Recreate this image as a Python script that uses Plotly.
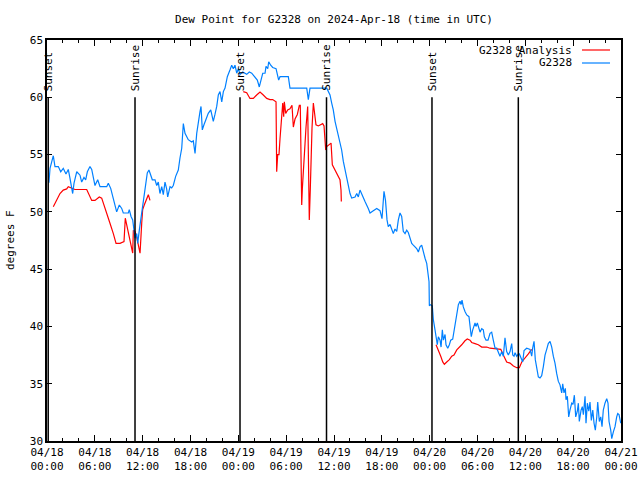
import pandas as pd
import plotly.graph_objects as go

BASE = pd.Timestamp("2024-04-18 00:00")

# G2328 observed dew point: hours since 04/18 00:00 UTC, value (deg F)
obs_hours = [0.16, 0.25, 0.38, 0.79, 1.0, 1.42, 1.72, 2.04, 2.38, 2.67, 2.89, 3.22, 3.39, 3.73, 4.14, 4.35,
             4.64, 4.85, 5.06, 5.39, 5.61, 6.02, 6.36, 6.65, 7.49, 7.69, 7.99, 8.32, 8.74, 9.07, 9.37, 9.57,
             10.2, 10.32, 10.54, 10.75, 10.91, 11.04, 11.25, 11.38, 11.58, 11.75, 11.95, 12.17, 12.38, 12.58,
             12.79, 13.01, 13.21, 13.55, 13.76, 13.96, 14.17, 14.39, 14.59, 14.8, 15.01, 15.14, 15.43, 15.64,
             15.84, 16.14, 16.47, 16.68, 16.9, 17.1, 17.31, 17.72, 18.15, 18.35, 18.57, 18.78, 18.98, 19.19,
             19.32, 19.48, 19.69, 20.03, 20.23, 20.54, 20.86, 21.07, 21.29, 21.49, 21.7, 21.92, 22.12, 22.33,
             22.62, 22.96, 23.17, 23.37, 23.58, 23.8, 24.0, 24.21, 24.55, 25.05, 25.38, 25.68, 26.09, 26.38,
             26.63, 26.85, 27.06, 27.35, 27.47, 27.69, 27.81, 28.06, 28.31, 28.73, 29.06, 29.23, 30.27, 30.48,
             32.58, 32.78, 32.99, 35.09, 35.5, 35.71, 35.91, 36.13, 36.34, 36.54, 36.75, 36.96, 37.17, 37.38,
             37.59, 37.8, 38.01, 38.22, 38.64, 38.85, 39.05, 39.26, 39.48, 39.68, 39.89, 40.3, 40.52, 40.93,
             41.36, 41.77, 42.02, 42.27, 42.46, 42.65, 42.81, 43.03, 43.44, 43.65, 43.87, 44.07, 44.28, 44.49,
             44.69, 44.91, 45.12, 45.32, 45.53, 45.75, 45.95, 46.16, 46.37, 46.58, 46.79, 47.0, 47.2, 47.42,
             47.63, 47.83, 47.92, 47.96, 48.11, 48.33, 48.38, 48.46, 48.67, 48.8, 48.96, 49.09, 49.3, 49.43,
             49.59, 49.72, 49.93, 50.05, 50.27, 50.47, 50.64, 50.89, 51.18, 51.4, 51.6, 51.81, 51.93, 52.06,
             52.22, 52.43, 52.65, 52.93, 53.06, 53.22, 53.4, 53.69, 53.81, 53.98, 54.32, 54.53, 54.73, 54.86,
             55.07, 55.32, 55.57, 55.78, 55.98, 56.2, 56.41, 56.61, 56.82, 57.04, 57.24, 57.45, 57.66, 57.87,
             58.08, 58.29, 58.42, 58.58, 58.71, 58.92, 59.12, 59.25, 59.46, 59.67, 59.84, 60.17, 60.59, 60.8,
             60.92, 61.09, 61.25, 61.43, 61.63, 61.84, 62.05, 62.26, 62.47, 62.68, 62.88, 63.1, 63.31, 63.51,
             63.72, 63.93, 64.14, 64.35, 64.56, 64.69, 64.85, 65.02, 65.1, 65.27, 65.44, 65.6, 65.82, 65.98,
             66.15, 66.32, 66.52, 66.65, 66.77, 66.99, 67.15, 67.28, 67.49, 67.61, 67.78, 67.96, 68.11, 68.28,
             68.46, 68.62, 68.78, 68.96, 69.08, 69.28, 69.46, 69.62, 69.78, 69.99, 70.21, 70.37, 70.5, 70.71,
             70.84, 71.04, 71.25, 71.46, 71.59, 71.75, 71.97]
obs_values = [52.6, 52.6, 53.8, 54.9, 53.95, 53.95, 53.5, 53.8, 53.3, 53.7, 52.9, 51.6, 52.5, 53.5, 53.2, 52.6,
              53.0, 52.8, 53.5, 53.95, 53.7, 52.3, 52.8, 52.2, 52.2, 52.5, 52.05, 51.2, 50.0, 50.6, 50.3, 49.9,
              49.9, 50.2, 49.6, 49.3, 48.4, 47.7, 48.1, 47.25, 48.4, 49.3, 50.2, 51.3, 52.5, 53.4,
              53.65, 53.1, 52.8, 52.8, 52.3, 52.6, 51.6, 52.2, 51.5, 52.6, 52.0, 51.3, 52.2, 52.1,
              52.3, 53.1, 53.65, 54.7, 55.55, 57.7, 56.85, 56.3, 56.1, 56.2, 55.1, 56.85, 58.0, 58.75,
              59.2, 57.15, 57.6, 58.3, 58.6, 58.9, 57.9, 58.5, 59.2, 60.2, 60.5, 59.6, 60.5, 60.8,
              61.8, 62.4, 62.8, 62.5, 62.8, 62.1, 62.5, 62.0, 62.2, 62.0, 62.2, 62.1, 61.8, 61.5,
              60.9, 61.5, 62.1, 62.1, 62.7, 62.5, 63.1, 62.8, 62.6, 62.5, 61.5, 61.8, 61.8, 60.8,
              60.8, 59.8, 60.8, 60.8, 60.2, 59.5, 58.9, 57.9, 57.3, 56.7, 56.0, 55.4, 54.4, 53.65,
              52.8, 52.2, 51.6, 51.2, 51.3, 51.6, 51.3, 51.9, 51.5, 51.3, 50.9, 50.3, 49.9, 50.1,
              50.3, 50.1, 49.4, 51.8, 51.0, 49.3, 48.7, 48.9, 48.1, 48.5, 48.3, 49.3, 49.9, 49.6,
              48.3, 48.1, 48.4, 48.2, 47.8, 47.25, 47.1, 46.95, 46.8, 46.5, 46.95, 47.1, 46.4, 45.95,
              45.5, 44.6, 43.9, 41.8, 41.9, 41.8, 41.1, 40.6, 39.7, 39.1, 38.4, 39.1, 38.8, 38.2,
              39.7, 38.8, 39.3, 38.4, 38.1, 38.4, 38.8, 38.9, 40.1, 40.85, 41.9, 42.2, 41.9, 42.3,
              41.7, 41.3, 41.0, 40.85, 40.0, 39.1, 39.7, 40.3, 40.0, 40.3, 39.5, 39.8, 39.7, 39.1,
              38.8, 38.8, 39.4, 39.5, 38.8, 38.1, 38.1, 37.7, 37.4, 37.8, 37.4, 39.0, 37.8, 37.5,
              37.8, 38.5, 37.5, 37.4, 37.7, 37.4, 37.6, 37.6, 37.2, 36.9, 37.9, 38.1, 38.0, 37.4,
              38.1, 38.7, 37.1, 36.5, 35.6, 35.5, 35.7, 36.5, 37.5, 38.0, 38.5, 38.7, 38.2, 37.4,
              36.8, 35.9, 35.2, 34.9, 34.2, 35.0, 34.2, 34.6, 33.6, 33.9, 32.1, 32.7, 33.3, 33.2,
              34.0, 32.1, 32.6, 33.3, 31.7, 32.7, 33.0, 32.3, 33.9, 31.55, 33.3, 32.6, 33.4, 31.8,
              32.7, 31.55, 30.95, 32.1, 33.4, 31.7, 32.1, 31.25, 32.7, 33.3, 33.7, 33.3, 31.7, 30.95,
              30.2, 30.8, 31.25, 32.1, 32.4, 32.3, 31.55]

# G2328 Analysis (three separate segments)
ana_hours_1 = [0.79, 1.22, 1.63, 2.04, 2.47, 2.67, 3.1, 3.51, 4.98, 5.18, 5.61, 6.02, 6.56, 6.86, 7.06, 7.4,
               7.69, 7.9, 8.32, 8.66, 9.16, 9.66, 9.82, 10.0, 10.2, 10.41, 10.54, 10.75, 10.83, 11.04, 11.25,
               11.45, 11.67, 11.88, 12.0, 12.2, 12.42, 12.71, 12.92]
ana_values_1 = [50.45, 51.0, 51.6, 51.9, 52.0, 52.2, 52.1, 51.95, 51.95, 51.6, 51.0, 51.0, 51.3, 51.2, 50.8, 50.0,
                49.6, 49.0, 48.1, 47.25, 47.25, 47.4, 49.45, 48.9, 48.1, 47.5, 46.95, 46.4, 48.4, 48.3, 47.8,
                47.25, 46.4, 49.0, 50.2, 50.6, 51.05, 51.5, 51.0]
ana_hours_2 = [24.62, 25.05, 25.46, 25.88, 26.3, 26.72, 27.13, 27.56, 27.97, 28.31, 28.73, 28.81, 28.94, 29.1,
               29.23, 29.35, 29.57, 29.69, 29.77, 29.94, 30.19, 30.48, 30.73, 30.9, 31.11, 31.4, 31.65, 31.77,
               31.86, 31.95, 32.03, 32.15, 32.28, 32.49, 32.7, 32.78, 32.9, 33.03, 33.12, 33.24, 33.41, 33.62,
               33.74, 34.03, 34.25, 34.58, 34.75, 34.96, 35.09, 35.29, 35.63, 35.79, 36.0, 36.25, 36.54, 36.75,
               36.88, 36.92]
ana_values_2 = [60.5, 60.4, 59.9, 59.9, 60.2, 60.45, 60.2, 59.9, 59.8, 59.8, 59.6, 53.5, 55.0, 55.0,
                56.4, 57.9, 59.5, 58.3, 59.6, 58.6, 58.9, 59.0, 59.3, 57.4, 58.1, 58.5, 59.3, 59.3,
                55.0, 50.6, 52.05, 53.8, 55.5, 57.4, 59.2, 55.0, 49.3, 52.05, 55.0, 57.3, 59.5, 58.2,
                57.6, 57.5, 57.6, 57.7, 57.5, 55.4, 55.7, 55.8, 56.0, 54.1, 53.8, 53.5, 53.1, 52.8,
                51.9, 50.9]
ana_hours_3 = [48.8, 49.09, 49.39, 49.64, 49.84, 50.14, 50.47, 50.77, 51.05, 51.4, 51.68, 52.02, 52.43, 52.72,
               53.06, 53.27, 53.69, 54.1, 54.53, 55.16, 55.57, 56.2, 56.92, 57.24, 57.66, 58.08, 58.5, 58.92,
               59.25, 59.55, 59.96, 60.38, 60.8]
ana_values_3 = [38.4, 37.95, 37.4, 36.9, 36.7, 36.9, 37.1, 37.4, 37.5, 37.95, 38.2, 38.4, 38.75, 38.9,
                38.8, 38.6, 38.5, 38.4, 38.2, 38.2, 38.1, 38.05, 38.0, 37.5, 36.9, 36.8, 36.55, 36.4,
                36.4, 36.9, 37.2, 37.6, 38.0]

# Sun events
sun_hours = [0.15, 11.04, 24.21, 35.06, 48.29, 59.12]
sun_labels = ["Sunset", "Sunrise", "Sunset", "Sunrise", "Sunset", "Sunrise"]

y_ticks = [30, 35, 40, 45, 50, 55, 60, 65]

RED = "#ff0000"
BLUE = "#0080ff"
FONT = "DejaVu Sans Mono"
FS = 11

W, H = 640, 480
ML, MR, MT, MB = 47, 19, 40, 39


def to_time(hours):
    return BASE + pd.to_timedelta(hours, unit="h")


ana_x, ana_y = [], []
for hs, vs in [(ana_hours_1, ana_values_1), (ana_hours_2, ana_values_2), (ana_hours_3, ana_values_3)]:
    if ana_x:
        ana_x.append(None)
        ana_y.append(None)
    ana_x.extend(list(to_time(hs)))
    ana_y.extend(vs)

fig = go.Figure()
fig.add_trace(go.Scatter(x=ana_x, y=ana_y, mode="lines", line=dict(color=RED, width=1.2),
                         name="G2328 Analysis", connectgaps=False, showlegend=False))
fig.add_trace(go.Scatter(x=list(to_time(obs_hours)), y=obs_values, mode="lines",
                         line=dict(color=BLUE, width=1.2), name="G2328", showlegend=False))

annotations = []
shapes = []
for h, lab in zip(sun_hours, sun_labels):
    t = to_time(h)
    shapes.append(dict(type="line", xref="x", yref="y", x0=t, x1=t, y0=30, y1=60,
                       line=dict(color="black", width=1.5)))
    annotations.append(dict(x=t, y=60, xref="x", yref="y", text=lab, textangle=-90,
                            showarrow=False, xanchor="center", yanchor="bottom", yshift=4,
                            font=dict(family=FONT, size=FS, color="black")))

pw = W - ML - MR
ph = H - MT - MB
# legend, gnuplot-style (text right-aligned, sample on the right)
legend_items = [("G2328 Analysis", RED, 50), ("G2328", BLUE, 63)]
for text, col, ypix in legend_items:
    yp = (H - MB - ypix) / ph
    annotations.append(dict(x=(574 - ML) / pw, y=yp, xref="paper", yref="paper", text=text, showarrow=False,
                            xanchor="right", yanchor="middle", font=dict(family=FONT, size=FS, color="black")))
    shapes.append(dict(type="line", xref="paper", yref="paper", x0=(582 - ML) / pw, x1=(610 - ML) / pw,
                       y0=yp, y1=yp, line=dict(color=col, width=1.2)))

# y-axis title
annotations.append(dict(x=(10 - ML) / pw, y=(H - MB - 240) / ph, xref="paper", yref="paper", text="degrees F",
                        textangle=-90, showarrow=False, xanchor="center", yanchor="middle",
                        font=dict(family=FONT, size=FS, color="black")))

fig.update_layout(
    width=W, height=H,
    margin=dict(l=ML, r=MR, t=MT, b=MB, pad=0),
    paper_bgcolor="white", plot_bgcolor="white",
    title=dict(text="Dew Point for G2328 on 2024-Apr-18 (time in UTC)", xref="paper", x=0.5,
               xanchor="center", yref="container", y=1 - 19 / H, yanchor="middle",
               font=dict(family=FONT, size=FS, color="black")),
    font=dict(family=FONT, size=FS, color="black"),
    shapes=shapes, annotations=annotations,
    showlegend=False,
)
fig.update_xaxes(
    range=[BASE, BASE + pd.Timedelta(hours=72)], type="date",
    dtick=6 * 3600000, tick0=BASE, tickformat="%m/%d<br>%H:%M",
    ticks="inside", ticklen=6, tickcolor="black", tickwidth=1,
    minor=dict(dtick=2 * 3600000, ticks="inside", ticklen=3, tickcolor="black", tickwidth=1),
    showline=True, linecolor="black", linewidth=1.5, mirror="allticks",
    showgrid=False, zeroline=False, tickfont=dict(family=FONT, size=FS), automargin=False,
)
fig.update_yaxes(
    range=[30, 65], tickvals=y_ticks, ticks="inside", ticklen=5, tickcolor="black",
    showline=True, linecolor="black", linewidth=1.5, mirror="allticks",
    showgrid=False, zeroline=False, tickfont=dict(family=FONT, size=FS), automargin=False,
)

# the page's default 8px body margin would shift the chart; remove it
fig.write_html("out.html", config={"displayModeBar": False},
               post_script="document.body.style.margin='0';document.body.style.overflow='hidden';")
